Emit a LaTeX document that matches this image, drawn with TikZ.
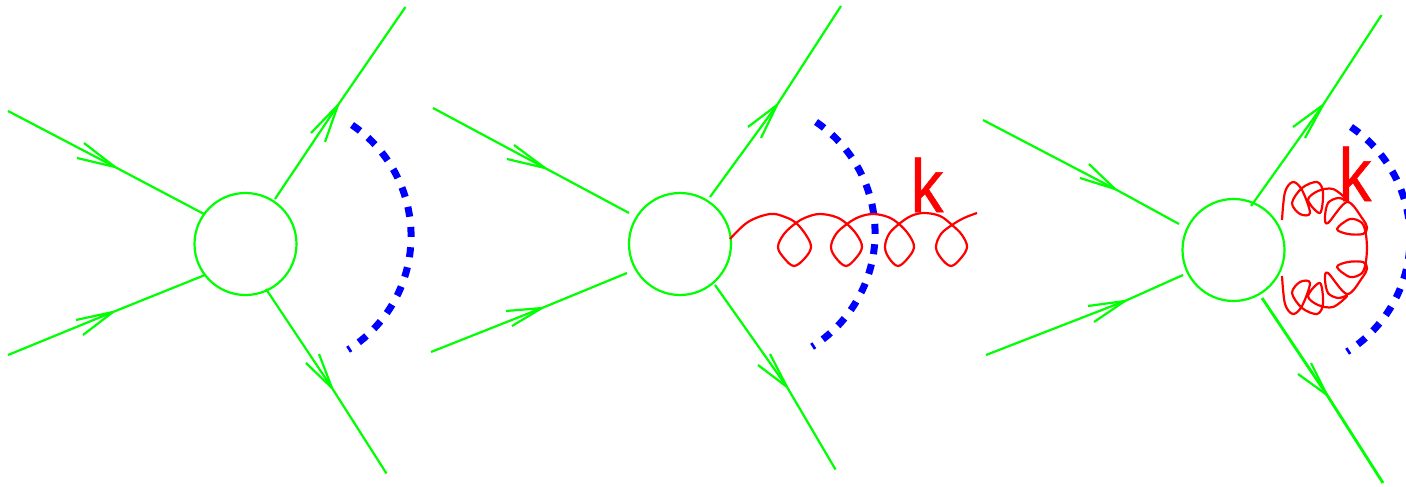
\documentclass[tikz,border=0pt]{standalone}
\usepackage{fontspec}
\setmainfont{Liberation Sans}
\newfontfamily\kfont[FakeBold=0.8]{Liberation Sans}
\newcommand{\legline}[7][]{%
  \coordinate (#2s) at (#3); \coordinate (#2t) at (#4);
  \coordinate (#2l) at (#5); \coordinate (#2r) at (#6); \coordinate (#2e) at (#7);
  \draw[fermion,#1] (#2s) -- (#2t) -- (#2e);
  \draw[fermion,line join=round] (#2l) -- (#2t) -- (#2r);}
\tikzset{
  fermion/.style={draw={rgb,255:red,0;green,255;blue,0},line width=2.2pt},
  blob/.style={circle,draw={rgb,255:red,0;green,255;blue,0},line width=2.2pt,minimum size=102pt,inner sep=0pt},
  cut/.style={draw=blue,line width=7pt,dash pattern=on 10pt off 10.3pt},
  gluon/.style={draw=red,line width=2.2pt,line join=round},
  momentum/.style={text=red,inner sep=0pt,anchor=base,xscale=0.87,font=\kfont\fontsize{75}{75}\selectfont},
}
\begin{document}
\begin{tikzpicture}[x=1pt,y=-1pt]
\useasboundingbox (0,0) rectangle (1406,487);
% first diagram
\node[blob] (c1) at (245.5,244) {};
\legline{a1}{8,111}{115,167}{84,143}{77,158}{204,214}
\legline{b1}{8,355}{113,312}{76,320}{83,335}{205,275}
\legline{c1}{275,199}{338,105}{311,133}{325,142}{405.5,7}
\legline{d1}{266,289}{332,388}{306,363}{319,354}{386.5,473.5}
\draw[cut] (352,125) arc[start angle=-56,end angle=58,radius=134];
% second diagram
\node[blob] (c2) at (680,244) {};
\legline{a2}{433,108}{545,168}{514,145}{507,159}{629,213}
\legline{b2}{431,352}{542,308}{506,311}{512,326}{627,273}
\legline{c2}{710,197}{777,105}{748,127}{761,138}{841,6}
\legline{d2}{715,285}{787,387}{758,365}{770,354}{835.5,469.5}
\draw[cut] (816,122) arc[start angle=-56,end angle=58,radius=134];
\draw[gluon] plot[smooth,tension=0.6] coordinates {
 (730,239) (748,222) (770,214) (785,217) (796,223) (806,235) (811,247) (805,258) (794,266) (784,258) (778,247) (784,234) (796,223)
 (807,217) (820,214) (836,217) (847,224) (857,235) (862,247) (856,258) (846,266) (836,258) (831,247) (836,234) (847,224)
 (859,217) (873,214) (888,217) (899,224) (909,235) (914,247) (908,258) (898,266) (889,258) (885,247) (889,234) (899,224)
 (911,216) (924,213) (940,216) (952,225) (962,235) (967,247) (961,258) (951,266) (941,258) (936,247) (941,234) (952,225)
 (964,218) (977,213)};
\node[momentum] (k2) at (927,212) {k};
% third diagram
\node[blob] (c3) at (1233.5,250) {};
\legline{a3}{983,120}{1115,189}{1089,164}{1080,178}{1179,224}
\legline{b3}{986,355}{1125,301}{1088,306}{1094,322}{1183,275}
\legline{c3}{1251,206}{1323,105}{1293,127}{1305,138}{1381.5,15}
\legline[line width=2.8pt]{d3}{1262,298}{1327,395}{1298,374}{1311,363}{1383,483}
\draw[cut] (1351,127) arc[start angle=-56,end angle=58,radius=134];
\draw[gluon] plot[smooth,tension=0.55] coordinates {
 (1282,220) (1285,192) (1293,182) (1302,190) (1310,213) (1300,214) (1292,203) (1302,188) (1317,182) (1323,192) (1320,213) (1308,200) (1318,191) (1333,189) (1347,200) (1338,198) (1328,203) (1325,217) (1328,223) (1347,202) (1362,218) (1367,228) (1363,234) (1348,234) (1337,229) (1350,219) (1362,223) (1366,235) (1367,248)};
\draw[gluon] plot[smooth,tension=0.55] coordinates {
 (1282,276) (1285,304) (1293,314) (1302,306) (1310,283) (1300,282) (1292,293) (1302,308) (1317,314) (1323,304) (1320,283) (1308,296) (1318,305) (1333,307) (1347,296) (1338,298) (1328,293) (1325,279) (1328,273) (1347,294) (1362,278) (1367,268) (1363,262) (1348,262) (1337,267) (1350,277) (1362,273) (1366,261) (1367,248)};
\node[momentum] (k3) at (1355,201) {k};
\end{tikzpicture}
\end{document}
